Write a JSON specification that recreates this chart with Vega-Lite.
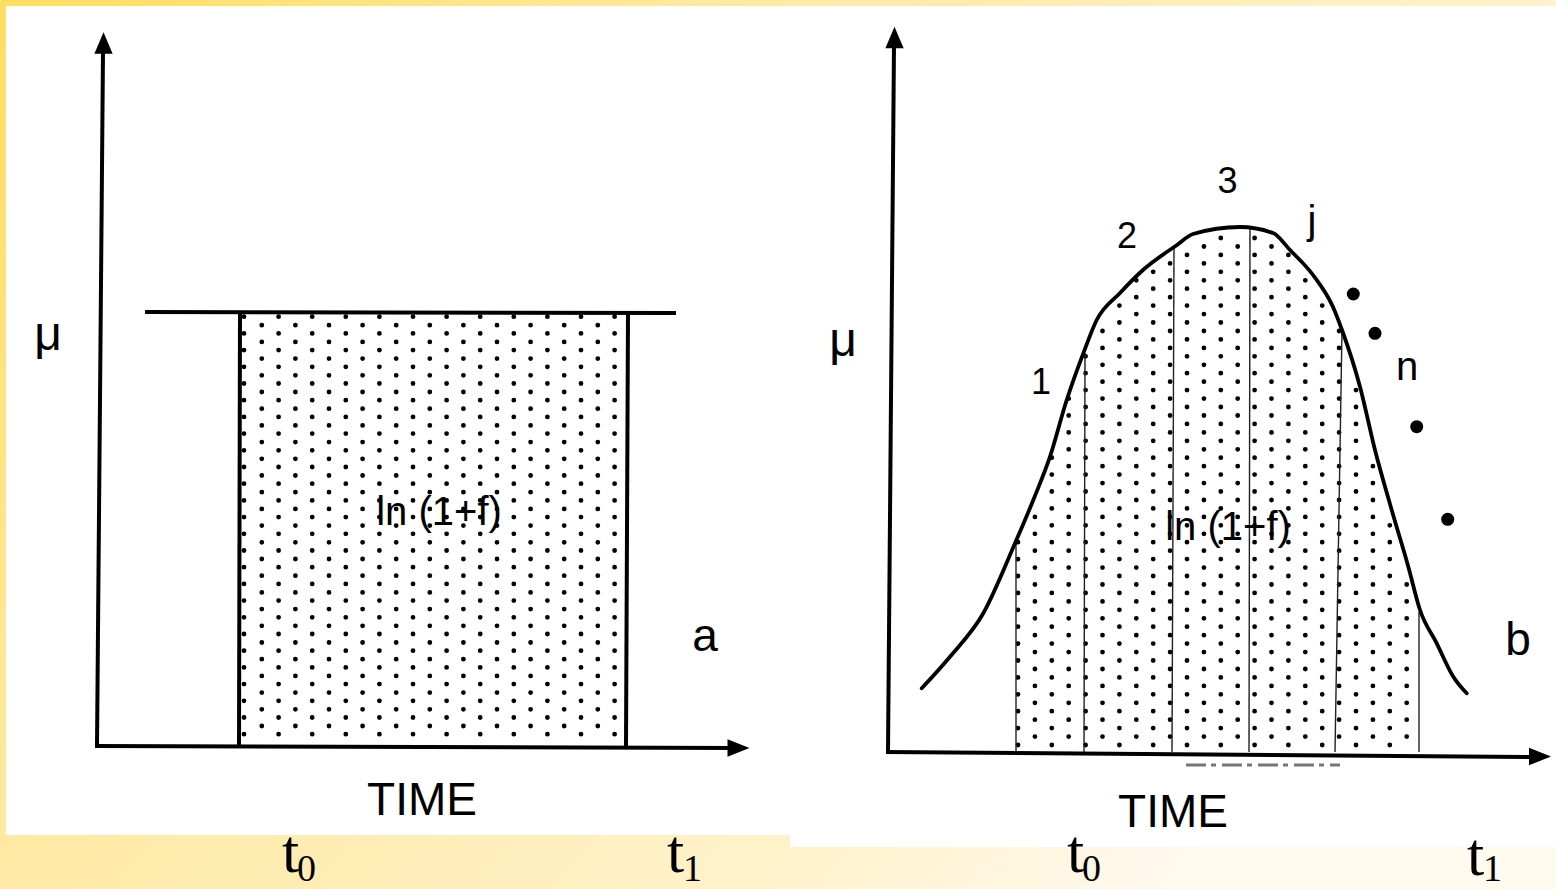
{
  "$schema": "https://vega.github.io/schema/vega-lite/v6.json",
  "width": 1556,
  "height": 889,
  "autosize": "none",
  "padding": 0,
  "background": "white",
  "config": {"view": {"stroke": null}},
  "datasets": {
    "bg": [{"x": 0, "y": 0, "x2": 1556, "y2": 889}],
    "white": [
      {"x": 6, "y": 6, "x2": 790, "y2": 835},
      {"x": 790, "y": 6, "x2": 1556, "y2": 847}
    ],
    "thick": [
      {"x": 97, "y": 746, "x2": 103, "y2": 52},
      {"x": 95, "y": 746, "x2": 735, "y2": 748},
      {"x": 145, "y": 312, "x2": 676, "y2": 313},
      {"x": 240, "y": 312, "x2": 239, "y2": 746},
      {"x": 628, "y": 313, "x2": 626, "y2": 746},
      {"x": 888, "y": 752, "x2": 894, "y2": 45},
      {"x": 886, "y": 752, "x2": 1532, "y2": 757}
    ],
    "thin": [
      {"x": 1016, "y": 543, "x2": 1016, "y2": 752},
      {"x": 1085, "y": 353, "x2": 1084, "y2": 752},
      {"x": 1174, "y": 248, "x2": 1172, "y2": 752},
      {"x": 1250, "y": 228, "x2": 1249, "y2": 752},
      {"x": 1342, "y": 330, "x2": 1335, "y2": 752},
      {"x": 1419, "y": 612, "x2": 1419, "y2": 752}
    ],
    "ghost": [{"x": 1186, "y": 765, "x2": 1340, "y2": 765}],
    "curve": [
      {"x": 921.7, "y": 688.3}, {"x": 950, "y": 656.7}, {"x": 983.3, "y": 613.3},
      {"x": 1015, "y": 543.3}, {"x": 1033.3, "y": 500}, {"x": 1050, "y": 456.7},
      {"x": 1066.7, "y": 400}, {"x": 1083.3, "y": 353.3}, {"x": 1096.7, "y": 320},
      {"x": 1120, "y": 293}, {"x": 1143, "y": 270}, {"x": 1177, "y": 245},
      {"x": 1193, "y": 234}, {"x": 1240, "y": 227}, {"x": 1273, "y": 233},
      {"x": 1290, "y": 250}, {"x": 1313, "y": 275}, {"x": 1333, "y": 307},
      {"x": 1342, "y": 330}, {"x": 1360, "y": 386.7}, {"x": 1375, "y": 450},
      {"x": 1391.7, "y": 510}, {"x": 1408.3, "y": 566.7}, {"x": 1420, "y": 610},
      {"x": 1436.7, "y": 643.3}, {"x": 1453.3, "y": 676.7}, {"x": 1466.7, "y": 693.3}
    ],
    "dotsA": [
      {"x": 244, "y": 316.7, "y2": 742}, {"x": 261.8, "y": 325.2, "y2": 742},
      {"x": 278.6, "y": 316.7, "y2": 742}, {"x": 295.4, "y": 325.2, "y2": 742},
      {"x": 312.2, "y": 316.7, "y2": 742}, {"x": 329, "y": 325.2, "y2": 742},
      {"x": 345.8, "y": 316.7, "y2": 742}, {"x": 362.6, "y": 325.2, "y2": 742},
      {"x": 379.4, "y": 316.7, "y2": 742}, {"x": 396.2, "y": 325.2, "y2": 742},
      {"x": 413, "y": 316.7, "y2": 742}, {"x": 429.8, "y": 325.2, "y2": 742},
      {"x": 446.6, "y": 316.7, "y2": 742}, {"x": 463.4, "y": 325.2, "y2": 742},
      {"x": 480.2, "y": 316.7, "y2": 742}, {"x": 497, "y": 325.2, "y2": 742},
      {"x": 513.8, "y": 316.7, "y2": 742}, {"x": 530.6, "y": 325.2, "y2": 742},
      {"x": 547.4, "y": 316.7, "y2": 742}, {"x": 564.2, "y": 325.2, "y2": 742},
      {"x": 581, "y": 316.7, "y2": 742}, {"x": 597.8, "y": 325.2, "y2": 742},
      {"x": 614.6, "y": 316.7, "y2": 742}
    ],
    "dotsB": [
      {"x": 1018, "y": 745, "y2": 541}, {"x": 1034.9, "y": 736.6, "y2": 503},
      {"x": 1051.8, "y": 745, "y2": 455}, {"x": 1068.7, "y": 736.6, "y2": 396},
      {"x": 1085.6, "y": 745, "y2": 354}, {"x": 1102.5, "y": 736.6, "y2": 318},
      {"x": 1119.4, "y": 745, "y2": 299}, {"x": 1136.3, "y": 736.6, "y2": 278},
      {"x": 1153.2, "y": 745, "y2": 268}, {"x": 1170.1, "y": 736.6, "y2": 255},
      {"x": 1187, "y": 745, "y2": 244}, {"x": 1203.9, "y": 736.6, "y2": 237},
      {"x": 1220.8, "y": 745, "y2": 234}, {"x": 1237.7, "y": 736.6, "y2": 233},
      {"x": 1254.6, "y": 745, "y2": 235}, {"x": 1271.5, "y": 736.6, "y2": 238},
      {"x": 1288.4, "y": 745, "y2": 253}, {"x": 1305.3, "y": 736.6, "y2": 272},
      {"x": 1322.2, "y": 745, "y2": 296}, {"x": 1339.1, "y": 736.6, "y2": 328},
      {"x": 1356, "y": 745, "y2": 380}, {"x": 1372.9, "y": 736.6, "y2": 455},
      {"x": 1389.8, "y": 745, "y2": 509}, {"x": 1406.7, "y": 736.6, "y2": 572}
    ],
    "arrowUp": [{"x": 103.5, "y": 43}, {"x": 894.5, "y": 37.5}],
    "arrowRight": [{"x": 738.5, "y": 748}, {"x": 1540, "y": 756.5}],
    "bigDots": [
      {"x": 1353.3, "y": 294}, {"x": 1375, "y": 333.3},
      {"x": 1416.7, "y": 426.7}, {"x": 1447.7, "y": 519.3}
    ],
    "digits": [
      {"x": 1041, "y": 394, "t": "1"}, {"x": 1127, "y": 248, "t": "2"},
      {"x": 1227.5, "y": 193, "t": "3"}
    ],
    "letters": [
      {"x": 1312, "y": 234, "t": "j"}, {"x": 1407, "y": 380, "t": "n"}
    ],
    "panelLabels": [
      {"x": 705, "y": 651, "t": "a"}, {"x": 1518, "y": 655, "t": "b"}
    ],
    "mu": [
      {"x": 48, "y": 350, "t": "μ"}, {"x": 843, "y": 356, "t": "μ"}
    ],
    "ln": [
      {"x": 439, "y": 513, "t": "ln (1+f)"}, {"x": 1228, "y": 528, "t": "ln (1+f)"}
    ],
    "time": [
      {"x": 422, "y": 815, "t": "TIME"}, {"x": 1173, "y": 827, "t": "TIME"}
    ],
    "tBase": [
      {"x": 282, "y": 872, "t": "t"}, {"x": 667, "y": 872, "t": "t"},
      {"x": 1067, "y": 872, "t": "t"}, {"x": 1467, "y": 875, "t": "t"}
    ],
    "tSub": [
      {"x": 297, "y": 881, "t": "0"}, {"x": 683, "y": 881, "t": "1"},
      {"x": 1082, "y": 881, "t": "0"}, {"x": 1483, "y": 881, "t": "1"}
    ]
  },
  "encoding": {
    "x": {"field": "x", "type": "quantitative", "scale": {"domain": [0, 1556], "nice": false, "zero": false}, "axis": null},
    "y": {"field": "y", "type": "quantitative", "scale": {"domain": [0, 889], "nice": false, "zero": false, "reverse": true}, "axis": null}
  },
  "layer": [
    {
      "data": {"name": "bg"},
      "mark": {"type": "rect", "strokeWidth": 0, "color": {"gradient": "linear", "x1": 0, "y1": 0, "x2": 1, "y2": 0.5, "stops": [{"offset": 0, "color": "#FFDE60"}, {"offset": 0.4, "color": "#FFE9A5"}, {"offset": 0.8, "color": "#FFF2CC"}, {"offset": 1, "color": "#FFF9EE"}]}},
      "encoding": {"x2": {"field": "x2"}, "y2": {"field": "y2"}}
    },
    {
      "data": {"name": "white"},
      "mark": {"type": "rect", "color": "#FFFFFF", "strokeWidth": 0},
      "encoding": {"x2": {"field": "x2"}, "y2": {"field": "y2"}}
    },
    {
      "data": {"name": "dotsA"},
      "mark": {"type": "rule", "color": "#000000", "strokeWidth": 4.8, "strokeCap": "round", "strokeDash": [0, 16.7]},
      "encoding": {"y2": {"field": "y2"}}
    },
    {
      "data": {"name": "dotsB"},
      "mark": {"type": "rule", "color": "#000000", "strokeWidth": 4.8, "strokeCap": "round", "strokeDash": [0, 16.9]},
      "encoding": {"y2": {"field": "y2"}}
    },
    {
      "data": {"name": "thin"},
      "mark": {"type": "rule", "color": "#222222", "strokeWidth": 1.4},
      "encoding": {"x2": {"field": "x2"}, "y2": {"field": "y2"}}
    },
    {
      "data": {"name": "ghost"},
      "mark": {"type": "rule", "color": "#555555", "strokeWidth": 3, "strokeDash": [20, 5, 5, 6], "opacity": 0.8},
      "encoding": {"x2": {"field": "x2"}, "y2": {"field": "y2"}}
    },
    {
      "data": {"name": "thick"},
      "mark": {"type": "rule", "color": "#000000", "strokeWidth": 4, "strokeCap": "butt"},
      "encoding": {"x2": {"field": "x2"}, "y2": {"field": "y2"}}
    },
    {
      "data": {"name": "curve"},
      "mark": {"type": "line", "color": "#000000", "strokeWidth": 3.8, "interpolate": "monotone", "strokeCap": "round"},
      "encoding": {}
    },
    {
      "data": {"name": "arrowUp"},
      "mark": {"type": "point", "filled": true, "opacity": 1, "color": "#000000", "strokeWidth": 0, "size": 462, "shape": "M0,-1L0.85,1L-0.85,1Z"},
      "encoding": {}
    },
    {
      "data": {"name": "arrowRight"},
      "mark": {"type": "point", "filled": true, "opacity": 1, "color": "#000000", "strokeWidth": 0, "size": 484, "shape": "M1,0L-1,-0.8L-1,0.8Z"},
      "encoding": {}
    },
    {
      "data": {"name": "bigDots"},
      "mark": {"type": "point", "filled": true, "opacity": 1, "color": "#000000", "strokeWidth": 0, "size": 169, "shape": "circle"},
      "encoding": {}
    },
    {
      "data": {"name": "digits"},
      "mark": {"type": "text", "font": "Liberation Sans", "fontSize": 36, "align": "center", "baseline": "alphabetic", "color": "#000000"},
      "encoding": {"text": {"field": "t"}}
    },
    {
      "data": {"name": "letters"},
      "mark": {"type": "text", "font": "Liberation Sans", "fontSize": 40, "align": "center", "baseline": "alphabetic", "color": "#000000"},
      "encoding": {"text": {"field": "t"}}
    },
    {
      "data": {"name": "panelLabels"},
      "mark": {"type": "text", "font": "Liberation Sans", "fontSize": 46, "align": "center", "baseline": "alphabetic", "color": "#000000"},
      "encoding": {"text": {"field": "t"}}
    },
    {
      "data": {"name": "mu"},
      "mark": {"type": "text", "font": "Liberation Sans", "fontSize": 48, "align": "center", "baseline": "alphabetic", "color": "#000000"},
      "encoding": {"text": {"field": "t"}}
    },
    {
      "data": {"name": "ln"},
      "mark": {"type": "text", "font": "Liberation Sans", "fontSize": 40, "align": "center", "baseline": "middle", "color": "#000000"},
      "encoding": {"text": {"field": "t"}}
    },
    {
      "data": {"name": "time"},
      "mark": {"type": "text", "font": "Liberation Sans", "fontSize": 46, "align": "center", "baseline": "alphabetic", "color": "#000000"},
      "encoding": {"text": {"field": "t"}}
    },
    {
      "data": {"name": "tBase"},
      "mark": {"type": "text", "font": "Liberation Serif", "fontSize": 62, "align": "left", "baseline": "alphabetic", "color": "#000000"},
      "encoding": {"text": {"field": "t"}}
    },
    {
      "data": {"name": "tSub"},
      "mark": {"type": "text", "font": "Liberation Serif", "fontSize": 38, "align": "left", "baseline": "alphabetic", "color": "#000000"},
      "encoding": {"text": {"field": "t"}}
    }
  ]
}
